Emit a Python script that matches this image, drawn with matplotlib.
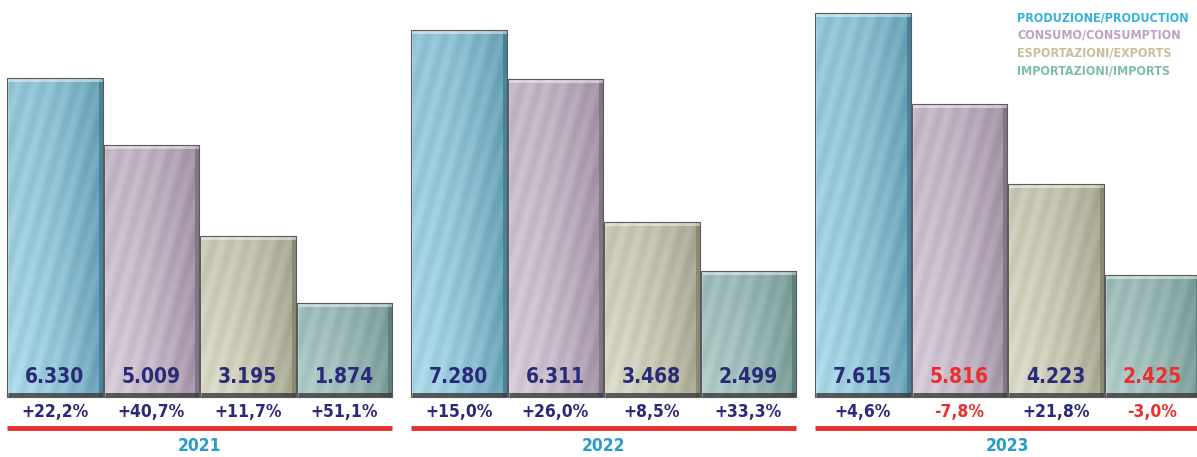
import numpy as np
import matplotlib
matplotlib.use("Agg")
import matplotlib.pyplot as plt
from matplotlib.patches import Rectangle
import matplotlib.colors as mcolors

years = ["2021", "2022", "2023"]
series = ["PRODUZIONE/PRODUCTION", "CONSUMO/CONSUMPTION", "ESPORTAZIONI/EXPORTS", "IMPORTAZIONI/IMPORTS"]
production = [6.330, 7.280, 7.615]
consumption = [5.009, 6.311, 5.816]
exports = [3.195, 3.468, 4.223]
imports = [1.874, 2.499, 2.425]
prod_chg = ["+22,2%", "+15,0%", "+4,6%"]
cons_chg = ["+40,7%", "+26,0%", "-7,8%"]
exp_chg = ["+11,7%", "+8,5%", "+21,8%"]
imp_chg = ["+51,1%", "+33,3%", "-3,0%"]

values = [production, consumption, exports, imports]
changes = [prod_chg, cons_chg, exp_chg, imp_chg]

bar_light = ["#b9e4f3", "#e2d6e4", "#e6e5d4", "#bcd7d4"]
bar_dark = ["#3f7f95", "#7f6f82", "#86866f", "#567d7a"]
legend_colors = ["#35b3de", "#c39fc4", "#c8bf9a", "#80bcad"]
navy = "#2a2b78"
red = "#e8302f"
year_col = "#2b9bc8"

plt.rcParams['font.family'] = ["DejaVu Sans"]
STR = "condensed"

fig = plt.figure(figsize=(11.97, 4.57), dpi=100)
ax = fig.add_axes([0, 0, 1, 1])
ax.set_xlim(0, 1197)
unit = 50.4
ax.set_ylim(-60 / unit, 397 / unit)
ax.axis("off")

bw = 95.5
group_step = 404
first_x = 7

def grad_img(light, dark, h_units, seed_shift):
    nx, ny = 60, 120
    l = np.array(mcolors.to_rgb(light))
    d = np.array(mcolors.to_rgb(dark))
    xx, yy = np.meshgrid(np.linspace(0, 1, nx), np.linspace(0, 1, ny))
    t = 0.12 + 0.55 * xx ** 1.8 + 0.22 * (1 - yy) * (1 - xx)
    streak = 0.07 * np.sin((xx * 12 + yy * 9 * (h_units / 5)) * 3.0 + seed_shift)
    t = np.clip(t + streak, 0, 1)
    img = l[None, None, :] * (1 - t[..., None]) + d[None, None, :] * t[..., None]
    return img

for s in range(4):
    for g in range(3):
        x0 = first_x + g * group_step + s * (bw + 1)
        v = values[s][g]
        bars = ax.bar(x0, v, width=bw, bottom=0, align="edge",
                      color="none", edgecolor="none")
        rect = bars[0]
        img = grad_img(bar_light[s], bar_dark[s], v, s + g)
        im = ax.imshow(img, extent=(x0, x0 + bw, 0, v), aspect="auto",
                       origin="upper", zorder=2, interpolation="bilinear")
        im.set_clip_path(rect)
        ax.add_patch(Rectangle((x0 + bw - 4, 0), 4, v, color=bar_dark[s], alpha=0.85, zorder=3, lw=0))
        ax.add_patch(Rectangle((x0, 0), bw, 4 / unit, color="#3a3a3a", alpha=0.8, zorder=3, lw=0))
        ax.add_patch(Rectangle((x0, v - 4 / unit), bw, 4 / unit, color="#ffffff", alpha=0.45, zorder=3, lw=0))
        ax.add_patch(Rectangle((x0, 0), 2, v, color="#ffffff", alpha=0.3, zorder=3, lw=0))
        ax.add_patch(Rectangle((x0, 0), bw, v, fill=False, edgecolor="#5a5a5a", lw=0.8, zorder=4))
        cx = x0 + bw / 2
        chg = changes[s][g]
        col = red if chg.startswith("-") else navy
        ax.text(cx, 20 / unit, f"{v:.3f}", ha="center", va="center",
                fontsize=15, fontweight="bold", color=col, zorder=5, fontstretch=STR)
        ax.text(cx, -15 / unit, chg, ha="center", va="center",
                fontsize=12.5, fontweight="bold", color=col, zorder=5, fontstretch=STR)

for g in range(3):
    x0 = first_x + g * group_step
    x1 = x0 + 4 * (bw + 1) - 1
    ax.plot([x0, x1], [-31 / unit, -31 / unit], color=red, lw=3.5, solid_capstyle="butt")
    ax.text((x0 + x1) / 2, -49 / unit, years[g], ha="center", va="center",
            fontsize=12.5, fontweight="bold", color=year_col, fontstretch=STR)

for i, name in enumerate(series):
    ax.text(1017, (397 - 18 - i * 17.5) / unit, name, ha="left", va="center",
            fontsize=9, color=legend_colors[i], fontstretch=STR, fontweight="semibold")

fig.savefig("out.png", dpi=100)
